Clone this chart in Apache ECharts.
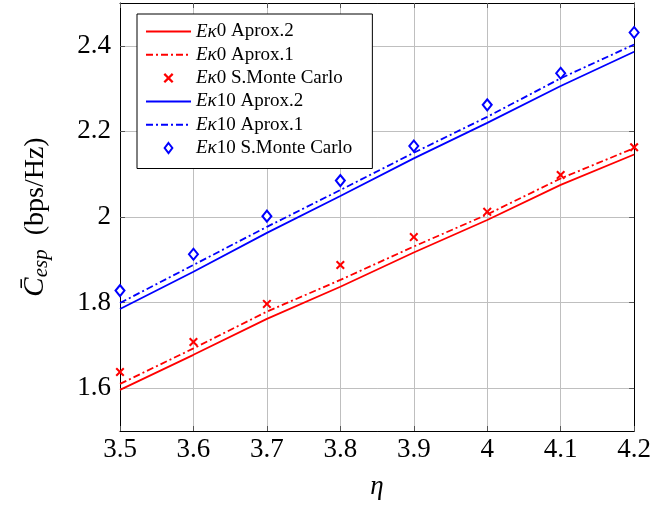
<!DOCTYPE html>
<html><head><meta charset="utf-8">
<script src="https://cdn.jsdelivr.net/npm/echarts@6/dist/echarts.min.js"></script>
<style>html,body{margin:0;padding:0;background:#fff}#c{width:654px;height:506px}</style>
</head><body><div id="c"></div>
<script>
const etaValues = [3.5, 3.6, 3.7, 3.8, 3.9, 4.0, 4.1, 4.2];
const xTicks = [3.5, 3.6, 3.7, 3.8, 3.9, 4.0, 4.1, 4.2];
const yTicks = [1.6, 1.8, 2.0, 2.2, 2.4];
const ek0Aprox2 = [1.596, 1.678, 1.762, 1.837, 1.917, 1.993, 2.075, 2.146];
const ek0Aprox1 = [1.610, 1.693, 1.779, 1.853, 1.931, 2.006, 2.090, 2.161];
const ek0MonteCarlo = [1.638, 1.708, 1.797, 1.888, 1.953, 2.012, 2.098, 2.163];
const ek10Aprox2 = [1.785, 1.872, 1.963, 2.049, 2.137, 2.220, 2.306, 2.386];
const ek10Aprox1 = [1.799, 1.888, 1.977, 2.063, 2.150, 2.234, 2.324, 2.403];
const ek10MonteCarlo = [1.828, 1.913, 2.002, 2.085, 2.166, 2.262, 2.336, 2.431];
const seriesNames = ['Eκ0 Aprox.2','Eκ0 Aprox.1','Eκ0 S.Monte Carlo','Eκ10 Aprox.2','Eκ10 Aprox.1','Eκ10 S.Monte Carlo'];

const pairs = ys => etaValues.map((x, i) => [x, ys[i]]);
const FONT = 'Liberation Serif';
const RED = '#ff0000', BLUE = '#0000ff';
const CLEAR = 'rgba(0,0,0,0)';
const dashDot = [7, 3, 2, 3];
const crossPath = 'path://M0,1.6L1.6,0L5,3.4L8.4,0L10,1.6L6.6,5L10,8.4L8.4,10L5,6.6L1.6,10L0,8.4L3.4,5Z';
const diamondPath = 'path://M5,0L10,6.5L5,13L0,6.5Z';

const chart = echarts.init(document.getElementById('c'), null, {renderer: 'canvas'});
const tickFmt = v => String(+v.toFixed(2));
const axisCommon = {
  axisLine: {show: true, onZero: false, lineStyle: {color: '#000', width: 1}},
  axisTick: {show: true, inside: true, length: 5, lineStyle: {color: '#555'}},
  splitLine: {show: false}
};
chart.setOption({
  animation: false,
  backgroundColor: '#fff',
  grid: {left: 120, right: 15, top: 3, bottom: 75},
  legend: {
    orient: 'vertical', left: 137, top: 14,
    data: seriesNames,
    itemWidth: 45, itemHeight: 10, itemGap: 4.3,
    padding: [8, 20, 11, 8],
    backgroundColor: '#fff', borderColor: '#000', borderWidth: 1,
    textStyle: {fontFamily: FONT, fontSize: 19, lineHeight: 18, color: '#000',
      rich: {i: {fontFamily: FONT, fontSize: 19, lineHeight: 18, fontStyle: 'italic'}}},
    formatter: n => '{i|Eκ}' + n.slice(2)
  },
  xAxis: [{
    type: 'value', min: 3.5, max: 4.2,
    ...axisCommon,
    axisTick: {...axisCommon.axisTick, customValues: xTicks},
    axisLabel: {customValues: xTicks, formatter: tickFmt, fontFamily: FONT, fontSize: 27, color: '#000', margin: 5},
    splitLine: {show: true, lineStyle: {color: '#bfbfbf', width: 1}},
    name: 'η', nameLocation: 'middle', nameGap: 42,
    nameTextStyle: {fontFamily: FONT, fontSize: 27, fontStyle: 'italic', color: '#000'}
  }, {
    type: 'value', min: 3.5, max: 4.2, position: 'top',
    ...axisCommon,
    axisTick: {...axisCommon.axisTick, customValues: xTicks},
    axisLabel: {show: false}
  }],
  yAxis: [{
    type: 'value', min: 1.5, max: 2.5,
    ...axisCommon,
    axisTick: {...axisCommon.axisTick, customValues: yTicks},
    axisLabel: {customValues: yTicks, formatter: tickFmt, fontFamily: FONT, fontSize: 27, color: '#000', margin: 9},
    splitLine: {show: true, lineStyle: {color: '#bfbfbf', width: 1}},
    name: '{c|C̄}{s|esp}{n|  (bps/Hz)}', nameLocation: 'middle', nameGap: 68, nameRotate: 90,
    nameTextStyle: {color: '#000', rich: {
      c: {fontFamily: FONT, fontSize: 29, fontStyle: 'italic', color: '#000'},
      s: {fontFamily: FONT, fontSize: 21, fontStyle: 'italic', color: '#000', padding: [12, 0, 0, 0]},
      n: {fontFamily: FONT, fontSize: 28, color: '#000'}
    }}
  }, {
    type: 'value', min: 1.5, max: 2.5, position: 'right',
    ...axisCommon,
    axisTick: {...axisCommon.axisTick, customValues: yTicks},
    axisLabel: {show: false}
  }],
  series: [
    {name: seriesNames[0], type: 'line', data: pairs(ek0Aprox2), symbol: 'none', lineStyle: {color: RED, width: 1.8}, itemStyle: {color: CLEAR, borderWidth: 0}},
    {name: seriesNames[1], type: 'line', data: pairs(ek0Aprox1), symbol: 'none', lineStyle: {color: RED, width: 1.8, type: dashDot}, itemStyle: {color: CLEAR, borderWidth: 0}},
    {name: seriesNames[2], type: 'scatter', data: pairs(ek0MonteCarlo), symbol: crossPath, symbolSize: 9, symbolKeepAspect: true, itemStyle: {color: RED, opacity: 1}},
    {name: seriesNames[3], type: 'line', data: pairs(ek10Aprox2), symbol: 'none', lineStyle: {color: BLUE, width: 1.8}, itemStyle: {color: CLEAR, borderWidth: 0}},
    {name: seriesNames[4], type: 'line', data: pairs(ek10Aprox1), symbol: 'none', lineStyle: {color: BLUE, width: 1.8, type: dashDot}, itemStyle: {color: CLEAR, borderWidth: 0}},
    {name: seriesNames[5], type: 'scatter', data: pairs(ek10MonteCarlo), symbol: diamondPath, symbolSize: [9, 11], itemStyle: {color: '#fff', borderColor: BLUE, borderWidth: 2, opacity: 1}}
  ]
});
</script></body></html>
